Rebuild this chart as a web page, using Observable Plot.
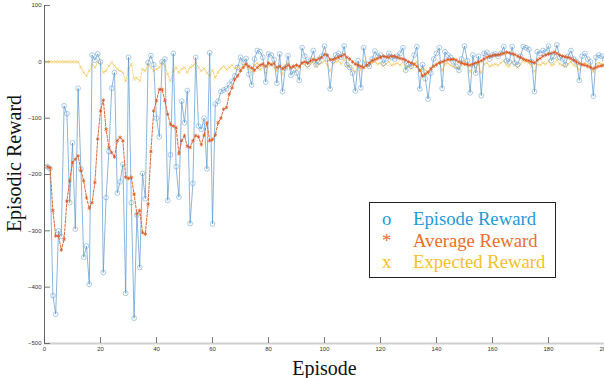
<!DOCTYPE html>
<html>
<head>
<meta charset="utf-8">
<script src="https://cdn.jsdelivr.net/npm/d3@7"></script>
<script src="https://cdn.jsdelivr.net/npm/@observablehq/plot@0.6"></script>
<style>
  html, body { margin: 0; padding: 0; background: #fff; }
  #wrap { position: relative; width: 604px; height: 378px; overflow: hidden; }
  #legend { position: absolute; left: 369px; top: 202px; width: 187px; height: 76px;
    border: 1.5px solid #222; background: #fff; font-family: "Liberation Serif", "Times New Roman", serif;
    font-size: 18.7px; box-sizing: border-box; }
  #legend .row { position: absolute; left: 0; white-space: nowrap; }
  #legend .sym { position: absolute; left: 12px; }
  #legend .lab { position: absolute; left: 43px; }
</style>
</head>
<body>
<div id="wrap"></div>
<script>
const episodeReward = [
-186,-190,-415,-448,-300,-310,-78,-92,-250,-144,
-297,-47,-190,-347,-327,-395,12,3,14,0,
-374,-241,-159,-47,-19,-233,-213,-182,-411,8,
-250,-455,-272,-365,-198,-243,-1,11,-5,-100,
-133,0,5,-246,-165,15,-186,-240,-70,-108,
-51,-287,-216,8,-114,-120,-100,-190,16,-288,
-75,-70,-53,-50,-48,-40,-34,-25,-10,8,
-1,6,-22,-41,5,20,18,8,-36,14,
12,4,-38,14,-53,-11,11,-24,-15,-20,
-33,25,10,-5,3,20,-5,0,10,28,
5,-48,2,12,15,8,28,-5,-10,-20,
-52,2,-46,25,-4,-8,5,19,10,12,
-3,5,15,8,5,10,15,25,-15,-5,
-8,12,27,-48,-5,-30,-66,-20,5,15,
25,-47,18,12,8,0,-8,-15,5,28,
2,-55,12,-20,10,-60,15,17,5,12,
14,10,15,27,2,0,27,-2,-5,10,
27,25,22,0,-53,18,15,20,18,28,
2,10,30,8,5,-5,10,20,5,0,
-33,10,15,5,0,-61,8,12,10,5
];
const averageReward = [
-186,-188,-264,-309,-309,-334,-315,-247,-211,-179,
-173,-167,-193,-211,-241,-260,-250,-214,-137,-87,
-68,-120,-152,-161,-169,-140,-134,-140,-205,-207,
-205,-235,-270,-264,-303,-306,-253,-159,-87,-69,
-49,-49,-69,-93,-111,-114,-117,-163,-140,-131,
-150,-152,-140,-131,-133,-147,-130,-108,-140,-138,
-130,-108,-100,-84,-81,-57,-46,-31,-25,-16,
-10,-4,-8,-11,-15,-10,-6,-4,-8,-2,
-5,-3,-10,-8,-12,-10,-6,-10,-8,-6,
-8,-2,0,-2,2,4,3,6,8,13,
12,4,4,6,8,10,13,8,5,0,
-4,-6,-8,-10,-6,-2,2,4,6,8,
10,9,8,10,10,8,6,5,3,0,
-2,-4,-8,-15,-25,-22,-18,-12,-8,-5,
-2,0,2,4,4,5,3,0,-2,-4,
-5,-6,-4,-2,0,2,5,8,10,11,
12,12,14,15,17,16,14,13,10,8,
5,3,2,0,-2,3,6,10,12,14,
15,17,15,12,10,9,8,6,3,0,
-3,-5,-6,-8,-10,-12,-10,-8,-7,-6
];
const expectedReward = [
0,0,0,0,0,0,0,0,0,0,
0,0,-10,-19,-25,-16,-4,-10,-1,-4,
-19,-16,-7,-1,-7,-13,-16,-19,-34,-13,
-4,-31,-28,-34,-13,-16,-4,-10,-16,-13,
-10,-1,-7,-22,-34,-16,-10,-19,-13,-10,
-19,-10,-7,-1,-10,-16,-12,-20,-25,-15,
-28,-18,-12,-8,-14,-10,-6,-12,-8,-14,
-4,-8,-12,-18,-6,-2,-14,-8,-20,-6,
-4,-10,-16,-8,-22,-6,-2,-12,-8,-14,
-10,-2,-6,-10,-4,0,-8,-4,-2,2,
-6,-16,-4,0,2,-4,4,-6,-8,-12,
-18,-6,-14,2,-6,-8,-2,0,-4,-2,
-8,-4,0,-6,-4,-2,-6,0,-10,-8,
-12,-4,0,-16,-10,-14,-22,-12,-6,-4,
0,-16,-4,-2,-6,-8,-10,-12,-6,2,
-4,-18,-6,-10,-4,-20,-4,-2,-8,-6,
-4,-6,-2,2,-6,-8,0,-6,-10,-4,
2,0,-2,-8,-18,-4,-6,-2,-4,2,
-6,-4,4,-4,-6,-8,-4,0,-6,-8,
-14,-4,-2,-6,-8,-18,-4,-2,-4,-6
];
const xTicks = [0, 20, 40, 60, 80, 100, 120, 140, 160, 180, 200];
const yTicks = [100, 0, -100, -200, -300, -400, -500];
const seriesNames = ["Episode Reward", "Average Reward", "Expected Reward"];
const seriesSymbols = ["o", "*", "x"];

const episodes = episodeReward.map((_, i) => i + 1);
const ep = episodes.map((e, i) => ({e, v: episodeReward[i]}));
const av = episodes.map((e, i) => ({e, v: averageReward[i]}));
const ex = episodes.map((e, i) => ({e, v: expectedReward[i]}));

const blue = "#4a8cc8", orange = "#d9561e", yellow = "#efbb40";
const serif = "Liberation Serif, Times New Roman, serif";

const chart = Plot.plot({
  width: 604,
  height: 378,
  marginLeft: 44,
  marginRight: 0,
  marginTop: 5,
  marginBottom: 35,
  style: {fontFamily: "Arial, sans-serif", fontSize: "6px", color: "#333", background: "#fff", overflow: "visible"},
  x: {domain: [0, 200], ticks: xTicks},
  y: {domain: [-500, 100], ticks: yTicks},
  marks: [
    Plot.ruleY([-500], {stroke: "#cfcfcf", strokeWidth: 2}),
    Plot.ruleX([0], {stroke: "#666", strokeWidth: 1}),
    Plot.tickX(xTicks, {x: d => d, insetTop: 332, stroke: "#555", strokeWidth: 0.8}),
    Plot.tickY(yTicks, {y: d => d, insetRight: 554, stroke: "#555", strokeWidth: 0.8}),
    Plot.axisX({ticks: xTicks, tickSize: 0, tickPadding: 3, label: null, fill: "#333"}),
    Plot.axisY({ticks: yTicks, tickSize: 0, tickPadding: 3, label: null, fill: "#333"}),
    Plot.line(ex, {x: "e", y: "v", stroke: yellow, strokeWidth: 0.8, strokeDasharray: "2,1.5", strokeOpacity: 0.8}),
    Plot.dot(ex, {x: "e", y: "v", symbol: "times", r: 1.6, stroke: yellow, strokeWidth: 0.6, strokeOpacity: 0.8}),
    Plot.line(ep, {x: "e", y: "v", stroke: blue, strokeWidth: 0.8, strokeOpacity: 0.8}),
    Plot.dot(ep, {x: "e", y: "v", symbol: "circle", r: 2.4, stroke: "#5c9bd2", strokeWidth: 0.6, fill: "none", strokeOpacity: 0.85}),
    Plot.line(av, {x: "e", y: "v", stroke: orange, strokeWidth: 0.9, strokeDasharray: "2.5,1.5"}),
    Plot.dot(av, {x: "e", y: "v", symbol: "asterisk", r: 1.8, stroke: orange, strokeWidth: 0.7}),
    Plot.text(["Episodic Reward"], {frameAnchor: "left", textAnchor: "middle", lineAnchor: "middle", dx: -30, dy: -11, rotate: -90, fontSize: 20, fontFamily: serif, fill: "#111"}),
    Plot.text(["Episode"], {frameAnchor: "bottom", textAnchor: "middle", lineAnchor: "middle", dy: 25, fontSize: 20, fontFamily: serif, fill: "#111"})
  ]
});
const wrap = document.getElementById("wrap");
wrap.appendChild(chart);

const legend = document.createElement("div");
legend.id = "legend";
const legendColors = ["#1f9ad8", "#ea6f2c", "#f7bf26"];
seriesNames.forEach((name, i) => {
  const row = document.createElement("div");
  row.className = "row";
  row.style.top = (5 + i * 21.5) + "px";
  row.style.color = legendColors[i];
  row.innerHTML = `<span class="sym">${seriesSymbols[i]}</span><span class="lab">${name}</span>`;
  legend.appendChild(row);
});
wrap.appendChild(legend);
</script>
</body>
</html>
